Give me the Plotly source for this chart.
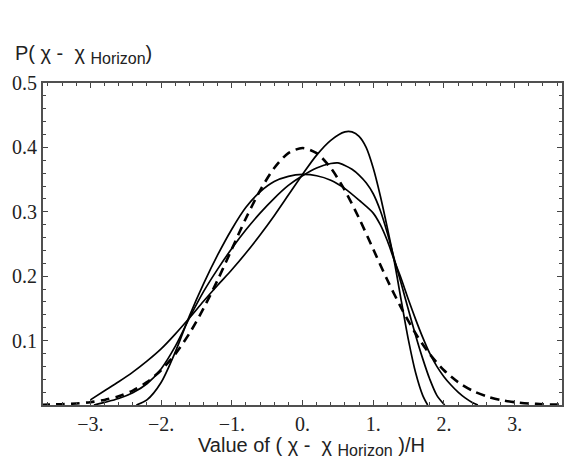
import plotly.graph_objects as go

# Dashed reference curve
xd = [-3.7, -3.4, -3.2, -3.0, -2.8, -2.6, -2.4, -2.2, -2.0, -1.8, -1.6, -1.4, -1.2, -1.0, -0.8, -0.6,
      -0.4, -0.2, 0.0, 0.2, 0.4, 0.6, 0.8, 1.0, 1.2, 1.4, 1.6, 1.8, 2.0, 2.2, 2.4, 2.6, 2.8, 3.0,
      3.2, 3.4, 3.7]
yd = [0.0004, 0.0012, 0.0024, 0.0044, 0.0079, 0.0136, 0.0224, 0.0355, 0.054, 0.079, 0.111, 0.150,
      0.194, 0.242, 0.290, 0.333, 0.368, 0.391, 0.399, 0.391, 0.368, 0.333, 0.290, 0.242, 0.194,
      0.150, 0.111, 0.079, 0.054, 0.0355, 0.0224, 0.0136, 0.0079, 0.0044, 0.0024, 0.0012, 0.0004]

# Solid curve A (tallest, left-skewed)
xa = [-3.0, -2.8, -2.6, -2.4, -2.2, -2.0, -1.8, -1.6, -1.4, -1.2, -1.0, -0.8, -0.6, -0.4, -0.2,
      0.0, 0.2, 0.4, 0.6, 0.7, 0.8, 0.9, 1.0, 1.1, 1.2, 1.3, 1.4, 1.5, 1.6, 1.7, 1.77]
ya = [0.008, 0.022, 0.036, 0.051, 0.068, 0.087, 0.110, 0.135, 0.161, 0.186, 0.21, 0.236, 0.264,
      0.294, 0.326, 0.358, 0.388, 0.411, 0.424, 0.424, 0.417, 0.400, 0.368, 0.325, 0.275, 0.222,
      0.160, 0.100, 0.050, 0.015, 0.0]

# Solid curve B (middle)
xb = [-2.95, -2.8, -2.6, -2.4, -2.2, -2.0, -1.8, -1.6, -1.4, -1.2, -1.0, -0.8, -0.6, -0.4, -0.2,
      0.0, 0.2, 0.4, 0.5, 0.6, 0.7, 0.8, 0.9, 1.0, 1.1, 1.2, 1.3, 1.4, 1.5, 1.6, 1.7, 1.8, 1.9, 2.01]
yb = [0.0, 0.004, 0.010, 0.019, 0.033, 0.056, 0.091, 0.135, 0.176, 0.211, 0.243, 0.272, 0.298,
      0.321, 0.341, 0.356, 0.368, 0.375, 0.376, 0.372, 0.366, 0.357, 0.345, 0.328, 0.302, 0.267,
      0.226, 0.187, 0.147, 0.108, 0.072, 0.040, 0.015, 0.0]

# Solid curve C (flattest)
xc = [-2.35, -2.2, -2.0, -1.8, -1.6, -1.4, -1.2, -1.0, -0.8, -0.6, -0.4, -0.2, 0.0, 0.2, 0.4, 0.6,
      0.8, 1.0, 1.1, 1.2, 1.3, 1.4, 1.5, 1.6, 1.7, 1.8, 1.9, 2.0, 2.1, 2.2, 2.3, 2.4, 2.48]
yc = [0.0, 0.008, 0.035, 0.082, 0.138, 0.188, 0.233, 0.273, 0.307, 0.331, 0.347, 0.355, 0.358,
      0.356, 0.349, 0.336, 0.318, 0.298, 0.280, 0.255, 0.224, 0.195, 0.163, 0.133, 0.105, 0.080,
      0.060, 0.044, 0.031, 0.020, 0.011, 0.004, 0.0]

x_tickvals = [-3, -2, -1, 0, 1, 2, 3]
x_ticktext = ["\u22123.", "\u22122.", "\u22121.", "0.", "1.", "2.", "3."]
y_tickvals = [0.1, 0.2, 0.3, 0.4, 0.5]
y_ticktext = ["0.1", "0.2", "0.3", "0.4", "0.5"]

fig = go.Figure()
line_shape = dict(shape="spline", smoothing=0.8)
fig.add_trace(go.Scatter(x=xd, y=yd, mode="lines",
                         line=dict(color="black", width=2.6, dash="9px,6px", **line_shape)))
for xs, ys in [(xa, ya), (xb, yb), (xc, yc)]:
    fig.add_trace(go.Scatter(x=xs, y=ys, mode="lines",
                             line=dict(color="black", width=1.7, **line_shape)))

axis_common = dict(
    showgrid=False, zeroline=False, showline=True, linecolor="#505050", linewidth=2,
    mirror="allticks", ticks="inside", ticklen=5, tickwidth=1.2, tickcolor="#444444",
    tickfont=dict(family="Liberation Serif", size=20, color="#222222"),
)
fig.update_xaxes(range=[-3.67, 3.67], tickvals=x_tickvals, ticktext=x_ticktext,
                 minor=dict(dtick=0.2, tick0=0, ticks="inside", ticklen=3, tickwidth=1,
                            tickcolor="#444444", showgrid=False),
                 **axis_common)
fig.update_yaxes(range=[0, 0.5], tickvals=y_tickvals, ticktext=y_ticktext,
                 minor=dict(dtick=0.02, tick0=0, ticks="inside", ticklen=3, tickwidth=1,
                            tickcolor="#444444", showgrid=False),
                 **axis_common)

sub = '<sub><span style="font-size:16px">Horizon</span></sub>'
fig.update_layout(
    width=574, height=467, showlegend=False,
    paper_bgcolor="white", plot_bgcolor="white",
    margin=dict(l=43, r=10, t=83, b=62),
    annotations=[
        dict(text="P( \u03c7 -  \u03c7 " + sub + ")", xref="paper", yref="paper",
             x=(13 - 43) / 521, y=1.0, xanchor="left", yanchor="middle", yshift=29,
             showarrow=False,
             font=dict(family="Liberation Sans", size=20, color="#222222")),
        dict(text="Value of ( \u03c7 -  \u03c7 " + sub + " )/H", xref="paper", yref="paper",
             x=(313 - 43) / 521, y=0, xanchor="center", yanchor="middle", yshift=-41,
             showarrow=False,
             font=dict(family="Liberation Sans", size=20, color="#222222")),
    ],
)

fig.write_html("out.html")
